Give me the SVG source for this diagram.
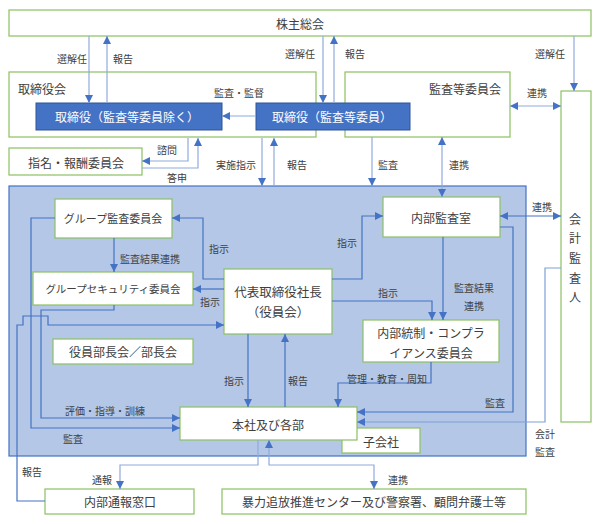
<svg xmlns="http://www.w3.org/2000/svg" width="600" height="524" viewBox="0 0 600 524">
<defs>
<marker id="a" viewBox="0 0 10 10" refX="10" refY="5" markerWidth="8" markerHeight="8" orient="auto-start-reverse" markerUnits="userSpaceOnUse"><path d="M0,0 L10,5 L0,10 z" fill="#4472c4"/></marker>
<style>
text{font-family:"Noto Sans CJK JP","Noto Sans",sans-serif;fill:#404040;text-anchor:middle;dominant-baseline:central}
.g{fill:#fff;stroke:#8dc063;stroke-width:1.2}
.b{fill:#4472c4;stroke:#2f5597;stroke-width:1}
.bt{fill:#fff;font-size:12px}
.t{font-size:12px}
.s{font-size:10px}
.c{fill:none;stroke-width:1.2}
.o{stroke:#8faadc}
.i{stroke:#4472c4}
</style>
</defs>
<rect x="9" y="186" width="517" height="270" fill="#b4c7e7" stroke="#4472c4" stroke-width="1.2"/>
<g id="kabunushi"><rect class="g" x="9" y="10" width="582" height="26"/><text class="t" x="300" y="23">株主総会</text></g>
<g id="kansaiinkai"><rect class="g" x="345" y="72" width="165" height="65"/><text class="t" x="465" y="88">監査等委員会</text></g>
<g id="torishimariyakukai"><rect class="g" x="9" y="72" width="307" height="65" fill="none"/><text class="t" x="42" y="88">取締役会</text></g>
<g id="torishimari1"><rect class="b" x="36" y="103" width="186" height="27"/><text class="bt" x="127" y="116">取締役（監査等委員除く）</text></g>
<g id="torishimari2"><rect class="b" x="256" y="103" width="154" height="27"/><text class="bt" x="332" y="116">取締役（監査等委員）</text></g>
<g id="kaikei"><rect class="g" x="561" y="91" width="30" height="331"/><text class="t" x="575" y="218">会</text><text class="t" x="575" y="237">計</text><text class="t" x="575" y="257">監</text><text class="t" x="575" y="277">査</text><text class="t" x="575" y="296">人</text></g>
<g id="shimei"><rect class="g" x="9" y="148" width="133" height="27"/><text class="t" x="76" y="162">指名・報酬委員会</text></g>
<g id="group-kansa"><rect class="g" x="55" y="199" width="117" height="39"/><text class="t" x="113" y="218" style="font-size:11px">グループ監査委員会</text></g>
<g id="group-sec"><rect class="g" x="33" y="272" width="160" height="33"/><text class="t" x="113" y="288" style="font-size:10.5px">グループセキュリティ委員会</text></g>
<g id="shacho"><rect class="g" x="224" y="269" width="108" height="65"/><text class="t" x="278" y="291" style="font-size:12.5px">代表取締役社長</text><text class="t" x="278" y="311" style="font-size:12.5px">（役員会）</text></g>
<g id="naibu-kansa"><rect class="g" x="383" y="197" width="117" height="40"/><text class="t" x="441" y="217">内部監査室</text></g>
<g id="naibu-tosei"><rect class="g" x="363" y="320" width="136" height="42"/><text class="t" x="431" y="332">内部統制・コンプラ</text><text class="t" x="431" y="352">イアンス委員会</text></g>
<g id="buchokai"><rect class="g" x="53" y="339" width="140" height="25"/><text class="t" x="123" y="351">役員部長会／部長会</text></g>
<g id="kogaisha"><rect class="g" x="342" y="428" width="78" height="25"/><text class="t" x="381" y="441">子会社</text></g>
<g id="honsha"><rect class="g" x="180" y="407" width="177" height="33"/><text class="t" x="268" y="424">本社及び各部</text></g>
<g id="tsuho"><rect class="g" x="45" y="489" width="149" height="25"/><text class="t" x="120" y="501">内部通報窓口</text></g>
<g id="boryoku"><rect class="g" x="222" y="489" width="304" height="25"/><text class="t" x="374" y="501">暴力追放推進センター及び警察署、顧問弁護士等</text></g>
<g id="connectors">
<path class="c o" d="M89,36 V103" marker-end="url(#a)"/>
<path class="c o" d="M107,103 V36" marker-end="url(#a)"/>
<path class="c o" d="M323,36 V103" marker-end="url(#a)"/>
<path class="c o" d="M334,103 V36" marker-end="url(#a)"/>
<path class="c o" d="M574,36 V91" marker-end="url(#a)"/>
<path class="c o" d="M510,106 H561" marker-start="url(#a)" marker-end="url(#a)"/>
<path class="c o" d="M256,116 H222" marker-end="url(#a)"/>
<path class="c o" d="M188,138 V161 H142" marker-end="url(#a)"/>
<path class="c o" d="M142,168 H198 V138" marker-end="url(#a)"/>
<path class="c o" d="M262,138 V186" marker-end="url(#a)"/>
<path class="c o" d="M274,186 V138" marker-end="url(#a)"/>
<path class="c o" d="M372,137 V186" marker-end="url(#a)"/>
<path class="c o" d="M442,137 V197" marker-start="url(#a)" marker-end="url(#a)"/>
<path class="c i" d="M500,216 H561" marker-start="url(#a)" marker-end="url(#a)"/>
<path class="c i" d="M224,279 H203 V218 H172" marker-end="url(#a)"/>
<path class="c i" d="M224,289 H193" marker-end="url(#a)"/>
<path class="c i" d="M114,238 V272" marker-end="url(#a)"/>
<path class="c i" d="M45,501 H17 V325 H23 V316 H48 V325 H224" marker-end="url(#a)"/>
<path class="c i" d="M114,305 V310 H41 V418 H180" marker-end="url(#a)"/>
<path class="c i" d="M55,218 H31 V428 H180" marker-end="url(#a)"/>
<path class="c i" d="M332,279 H362 V216 H383" marker-end="url(#a)"/>
<path class="c i" d="M332,301 H432 V320" marker-end="url(#a)"/>
<path class="c i" d="M443,237 V320" marker-end="url(#a)"/>
<path class="c i" d="M500,227 H513 V412 H357" marker-end="url(#a)"/>
<path class="c" stroke="#7f9fd8" d="M561,268 H545 V422 H357" marker-end="url(#a)"/>
<path class="c i" d="M431,362 V383 H338 V407" marker-end="url(#a)"/>
<path class="c i" d="M248,334 V407" marker-end="url(#a)"/>
<path class="c i" d="M285,407 V334" marker-end="url(#a)"/>
<path class="c o" d="M258,440 V465 H120 V489" marker-end="url(#a)"/>
<path class="c o" d="M269,440 V465 H374 V489" marker-start="url(#a)" marker-end="url(#a)"/>
</g>
<g id="labels">
<text class="s" x="72" y="58">選解任</text>
<text class="s" x="123" y="58">報告</text>
<text class="s" x="300" y="53">選解任</text>
<text class="s" x="355" y="53">報告</text>
<text class="s" x="550" y="53">選解任</text>
<text class="s" x="537" y="92">連携</text>
<text class="s" x="239" y="92">監査・監督</text>
<text class="s" x="167" y="149">諮問</text>
<text class="s" x="177" y="177">答申</text>
<text class="s" x="236" y="164">実施指示</text>
<text class="s" x="297" y="164">報告</text>
<text class="s" x="388" y="164">監査</text>
<text class="s" x="459" y="164">連携</text>
<text class="s" x="542" y="206">連携</text>
<text class="s" x="219" y="248">指示</text>
<text class="s" x="210" y="301">指示</text>
<text class="s" x="150" y="258">監査結果連携</text>
<text class="s" x="347" y="242">指示</text>
<text class="s" x="388" y="292">指示</text>
<text class="s" x="474" y="287">監査結果</text>
<text class="s" x="474" y="305">連携</text>
<text class="s" x="495" y="402">監査</text>
<text class="s" x="545" y="433">会計</text>
<text class="s" x="545" y="451">監査</text>
<text class="s" x="387" y="378">管理・教育・周知</text>
<text class="s" x="234" y="380">指示</text>
<text class="s" x="298" y="380">報告</text>
<text class="s" x="105" y="410">評価・指導・訓練</text>
<text class="s" x="73" y="438">監査</text>
<text class="s" x="32" y="471">報告</text>
<text class="s" x="102" y="479">通報</text>
<text class="s" x="398" y="479">連携</text>
</g>
</svg>
